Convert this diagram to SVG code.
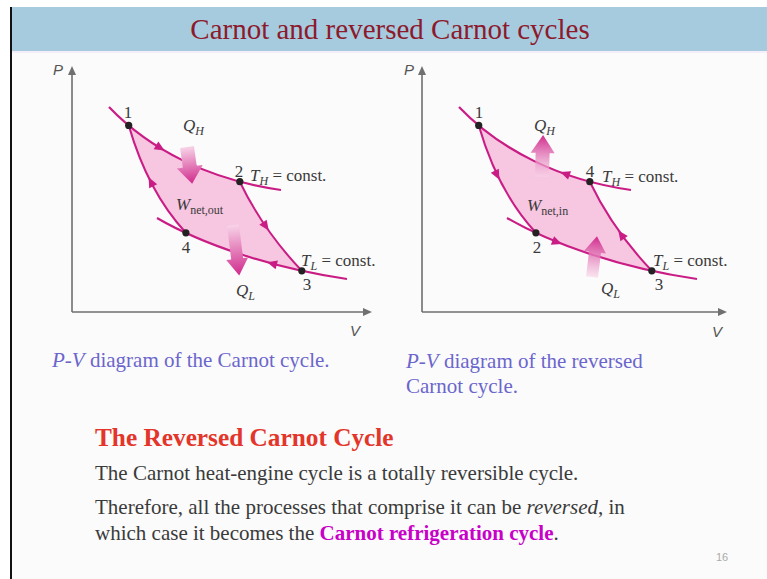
<svg xmlns="http://www.w3.org/2000/svg" xmlns:xlink="http://www.w3.org/1999/xlink" width="767" height="579" viewBox="0 0 767 579">
<style>
.ser{font-family:"Liberation Serif","Times New Roman",serif}
.sans{font-family:"Liberation Sans",Arial,sans-serif}
.curve{fill:none;stroke:#c91c84;stroke-width:2.2}
.adi{fill:none;stroke:#c91c84;stroke-width:2}
.axis{fill:none;stroke:#707070;stroke-width:1.6}
.lbl{font-family:"Liberation Serif","Times New Roman",serif;font-size:17px;fill:#3a3a3a}
.it{font-style:italic}
.ax{font-family:"Liberation Sans",Arial,sans-serif;font-style:italic;font-size:15px;fill:#555}
.cap{font-family:"Liberation Serif","Times New Roman",serif;font-size:21px;fill:#6b66cc}
.body{font-family:"Liberation Serif","Times New Roman",serif;font-size:21px;fill:#3a3a3a}
</style>
<defs>
<path id="ah" d="M3,0 L-7,-4.5 L-7,4.5 Z" fill="#c91c84"/>
<path id="axh" d="M0,0 L-9,-4 L-9,4 Z" fill="#707070"/>
<linearGradient id="gDown" x1="0" y1="0" x2="0" y2="1">
<stop offset="0" stop-color="#f7d3e7"/>
<stop offset="1" stop-color="#d02a8c"/>
</linearGradient>
<linearGradient id="gUp" x1="0" y1="1" x2="0" y2="0">
<stop offset="0" stop-color="#f7d3e7" stop-opacity="0.6"/>
<stop offset="1" stop-color="#d02a8c"/>
</linearGradient>
<g id="cycle">
<path d="M128.7,125.4 Q175.2,164.4 239.8,181.7 Q263,230 301.8,270.8 Q238.4,257 185.9,232.8 Q148,192 128.7,125.4 Z" fill="#f7c6e1"/>
<path class="curve" d="M109,107 C150,150 210,180 281,190"/>
<path class="curve" d="M157,218 C200,243 270,268 347,279"/>
<path class="adi" d="M239.8,181.7 Q263,230 301.8,270.8"/>
<path class="adi" d="M128.7,125.4 Q148,192 185.9,232.8"/>
<circle cx="128.7" cy="125.4" r="3.6" fill="#222"/>
<circle cx="239.8" cy="181.7" r="3.6" fill="#222"/>
<circle cx="301.8" cy="270.8" r="3.6" fill="#222"/>
<circle cx="185.9" cy="232.8" r="3.6" fill="#222"/>
</g>
</defs>
<rect x="0" y="0" width="767" height="579" fill="#ffffff"/>
<rect x="12" y="7" width="755" height="572" fill="#fbfbfb"/>
<g id="title">
<rect x="12" y="7" width="755" height="44" fill="#a6cbdf"/>
<rect x="12" y="51" width="755" height="2" fill="#f3eefa"/>
<text class="ser" x="390" y="39" text-anchor="middle" font-size="29" fill="#8c1a2c">Carnot and reversed Carnot cycles</text>
</g>
<rect x="10" y="7" width="2" height="572" fill="#111"/>

<g id="left-diagram">
<g id="left-axes">
<path class="axis" d="M72,312 L72,72 M72,312 L366,312"/>
<use xlink:href="#axh" transform="translate(72,66) rotate(-90)"/>
<use xlink:href="#axh" transform="translate(372,312)"/>
<text class="ax" x="53" y="75">P</text>
<text class="ax" x="350" y="336">V</text>
</g>
<use xlink:href="#cycle"/>
<g id="left-connectors">
<use xlink:href="#ah" transform="translate(162,149) rotate(31)"/>
<use xlink:href="#ah" transform="translate(267,228) rotate(55)"/>
<use xlink:href="#ah" transform="translate(270,263) rotate(195)"/>
<use xlink:href="#ah" transform="translate(150,180) rotate(243)"/>
<path d="M-7,0 L7,0 L7,20 L13,20 L0,37 L-13,20 L-7,20 Z" fill="url(#gDown)" transform="translate(187,147) rotate(-8)"/>
<path d="M-6,0 L6,0 L6,34 L11,34 L0,51 L-11,34 L-6,34 Z" fill="url(#gDown)" transform="translate(233,225) rotate(-7)"/>
</g>
<g id="left-labels">
<text class="lbl" x="128" y="118" text-anchor="middle" font-size="17">1</text>
<text class="lbl" x="239" y="177" text-anchor="middle" font-size="17">2</text>
<text class="lbl" x="307" y="290" text-anchor="middle" font-size="17">3</text>
<text class="lbl" x="186" y="253" text-anchor="middle" font-size="17">4</text>
<text class="lbl" x="183" y="131" font-size="18"><tspan class="it">Q</tspan><tspan class="it" font-size="12" dy="4">H</tspan></text>
<text class="lbl" x="236" y="296" font-size="18"><tspan class="it">Q</tspan><tspan class="it" font-size="12" dy="4">L</tspan></text>
<text class="lbl" x="250" y="181"><tspan class="it">T</tspan><tspan class="it" font-size="12" dy="4">H</tspan><tspan dy="-4"> = const.</tspan></text>
<text class="lbl" x="301" y="266"><tspan class="it">T</tspan><tspan class="it" font-size="12" dy="4">L</tspan><tspan dy="-4"> = const.</tspan></text>
<text class="lbl" x="176" y="210" font-size="19"><tspan class="it">W</tspan><tspan font-size="12" dy="4">net,out</tspan></text>
</g>
</g>

<g id="right-diagram">
<g id="right-axes">
<path class="axis" d="M422,312 L422,72 M422,312 L721,312"/>
<use xlink:href="#axh" transform="translate(422,66) rotate(-90)"/>
<use xlink:href="#axh" transform="translate(727,312)"/>
<text class="ax" x="404" y="75">P</text>
<text class="ax" x="712" y="337">V</text>
</g>
<use xlink:href="#cycle" transform="translate(350,0)"/>
<g id="right-connectors" transform="translate(350,0)">
<use xlink:href="#ah" transform="translate(148,177) rotate(63)"/>
<use xlink:href="#ah" transform="translate(209,243) rotate(21)"/>
<use xlink:href="#ah" transform="translate(270,233) rotate(234)"/>
<use xlink:href="#ah" transform="translate(213,173) rotate(200)"/>
</g>
<g id="right-heat">
<path d="M-7,0 L7,0 L7,-24 L12,-24 L0,-42 L-12,-24 L-7,-24 Z" fill="url(#gUp)" transform="translate(542,177) rotate(1.5)"/>
<path d="M-6,0 L6,0 L6,-25 L11,-25 L0,-41 L-11,-25 L-6,-25 Z" fill="url(#gUp)" transform="translate(592,277) rotate(7)"/>
</g>
<g id="right-labels">
<text class="lbl" x="479" y="118" text-anchor="middle" font-size="17">1</text>
<text class="lbl" x="590" y="177" text-anchor="middle" font-size="17">4</text>
<text class="lbl" x="659" y="290" text-anchor="middle" font-size="17">3</text>
<text class="lbl" x="537" y="253" text-anchor="middle" font-size="17">2</text>
<text class="lbl" x="534" y="131" font-size="18"><tspan class="it">Q</tspan><tspan class="it" font-size="12" dy="4">H</tspan></text>
<text class="lbl" x="601" y="294" font-size="18"><tspan class="it">Q</tspan><tspan class="it" font-size="12" dy="4">L</tspan></text>
<text class="lbl" x="602" y="182"><tspan class="it">T</tspan><tspan class="it" font-size="12" dy="4">H</tspan><tspan dy="-4"> = const.</tspan></text>
<text class="lbl" x="653" y="266"><tspan class="it">T</tspan><tspan class="it" font-size="12" dy="4">L</tspan><tspan dy="-4"> = const.</tspan></text>
<text class="lbl" x="527" y="211" font-size="19"><tspan class="it">W</tspan><tspan font-size="12" dy="4">net,in</tspan></text>
</g>
</g>

<g id="captions">
<text class="cap" x="52" y="367"><tspan class="it">P-V</tspan> diagram of the Carnot cycle.</text>
<text class="cap" x="406" y="368"><tspan class="it">P-V</tspan> diagram of the reversed</text>
<text class="cap" x="406" y="393">Carnot cycle.</text>
</g>

<g id="body-text">
<text class="ser" x="95" y="446" font-size="25.3" font-weight="bold" fill="#e3352a">The Reversed Carnot Cycle</text>
<text class="body" x="95" y="480">The Carnot heat-engine cycle is a totally reversible cycle.</text>
<text class="body" x="95" y="514">Therefore, all the processes that comprise it can be <tspan class="it">reversed</tspan>, in</text>
<text class="body" x="95" y="540">which case it becomes the <tspan font-weight="bold" fill="#c800c8">Carnot refrigeration cycle</tspan>.</text>
<text class="sans" x="722" y="561" text-anchor="middle" font-size="11" fill="#aaaaaa">16</text>
</g>
</svg>
